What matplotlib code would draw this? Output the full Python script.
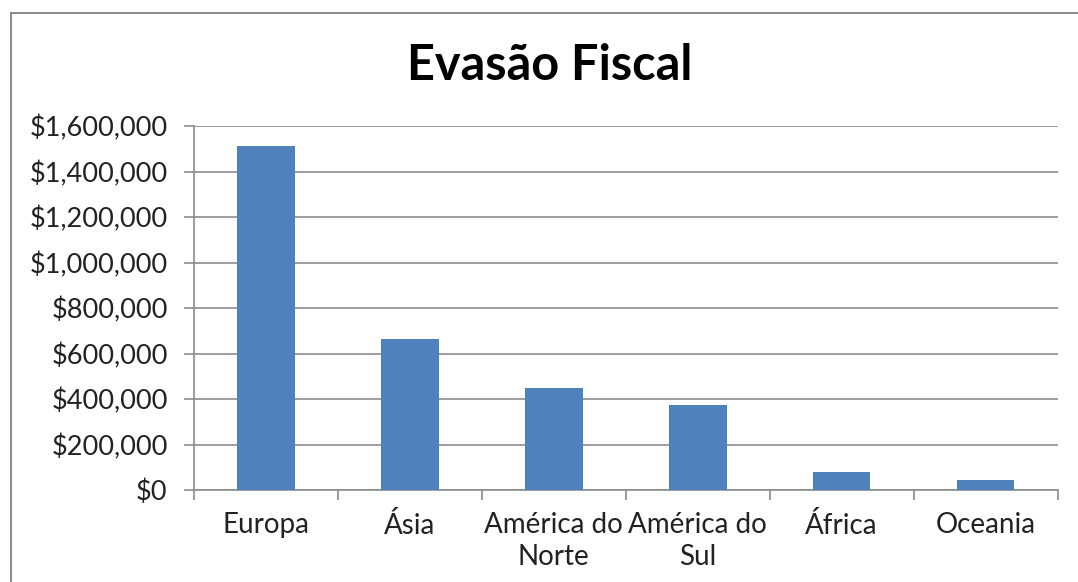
import matplotlib.pyplot as plt
from matplotlib.patches import Rectangle
from matplotlib.ticker import FuncFormatter

regioes = ['Europa', 'Ásia', 'América do\nNorte', 'América do\nSul', 'África', 'Oceania']
evasao = [1513000, 663000, 450000, 375000, 78000, 46000]
y_ticks = [0, 200000, 400000, 600000, 800000, 1000000, 1200000, 1400000, 1600000]

plt.rcParams['font.family'] = ['Lato', 'DejaVu Sans']

fig = plt.figure(figsize=(10.78, 5.82), dpi=100)
ax = fig.add_axes([0.180, 0.158, 0.801, 0.6255])

# chart frame like the spreadsheet chart border (runs off the right/bottom)
fig.patches.append(Rectangle((11 / 1078, -0.05), 1.2, 1 - 13 / 582 + 0.05,
                             transform=fig.transFigure, fill=False,
                             edgecolor='#8c8c8c', linewidth=1.5))

x = range(len(regioes))
ax.bar(x, evasao, width=0.4, color='#4F81BD', zorder=3)

ax.set_xlim(-0.5, len(regioes) - 0.5)
ax.set_ylim(0, 1600000)
ax.set_yticks(y_ticks)
ax.yaxis.set_major_formatter(FuncFormatter(lambda v, p: f"${v:,.0f}"))
ax.yaxis.grid(True, color='#8c8c8c', linewidth=1.2, zorder=0)

# category labels centred, ticks at the boundaries
ax.set_xticks([i - 0.5 for i in range(len(regioes) + 1)])
ax.set_xticklabels([])
ax.set_xticks(list(x), minor=True)
ax.set_xticklabels(regioes, minor=True, fontsize=20, color='#222222', linespacing=1.25)
ax.tick_params(axis='x', which='minor', length=0, pad=16)
ax.tick_params(axis='x', which='major', length=7, color='#8c8c8c', width=1.2)
ax.tick_params(axis='y', length=7, color='#8c8c8c', width=1.2, labelsize=19.5,
               labelcolor='#222222', pad=12)

for side in ['top', 'right']:
    ax.spines[side].set_visible(False)
for side in ['left', 'bottom']:
    ax.spines[side].set_color('#8c8c8c')
    ax.spines[side].set_linewidth(1.2)

fig.text(0.51, 1 - 66 / 582, 'Evasão Fiscal', ha='center', va='center',
         fontsize=35, fontweight='bold', color='black')

fig.savefig('out.png', dpi=100)
